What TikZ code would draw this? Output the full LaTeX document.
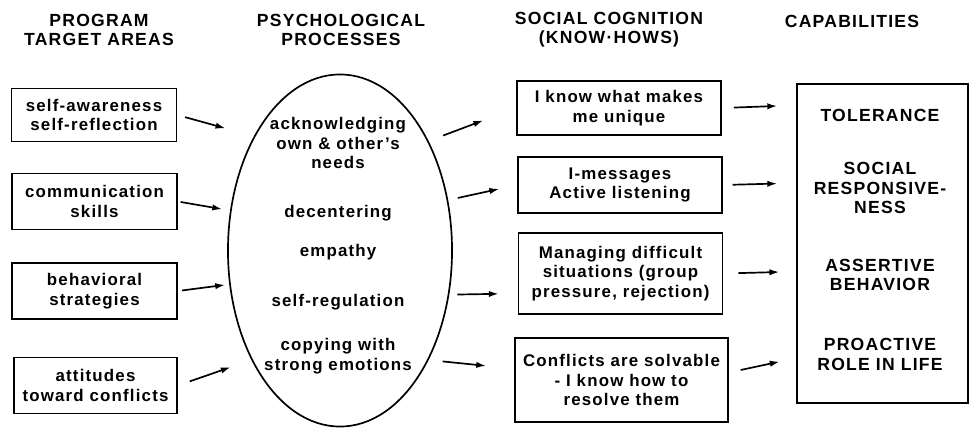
\documentclass[tikz,border=0pt]{standalone}
\usepackage{fontspec}
\setmainfont{Liberation Sans}[LetterSpace=7]
\usetikzlibrary{shapes.geometric,arrows.meta,positioning}

\begin{document}
\begin{tikzpicture}[x=0.025cm, y=-0.025cm,
    font=\fontsize{12}{13.9}\selectfont\bfseries,
    box/.style={rectangle, draw, line width=1.2pt, align=center, inner sep=0pt},
    target/.style={box, minimum width=4.125cm, minimum height=1.4cm},
    know/.style={box, minimum width=5.1cm},
    ptext/.style={align=center, inner sep=0pt},
    head/.style={align=center, font=\fontsize{12.5}{13.6}\selectfont\bfseries},
    arr/.style={-{Latex[length=7pt,width=4.5pt]}, line width=1.2pt}]

    \useasboundingbox (0,0) rectangle (970,428);

    % column headings
    \node[head] (h1) at (99,30) {PROGRAM\\TARGET AREAS};
    \node[head] (h2) at (341,30) {PSYCHOLOGICAL\\PROCESSES};
    \node[head] (h3) at (609,30) {SOCIAL COGNITION\\(KNOW·HOWS)};
    \node[head] (h4) at (852,21) {CAPABILITIES};

    % target areas
    \node[target, minimum height=1.33cm] (t1) at (94,115) {self-awareness\\self-reflection};
    \node[target] (t2) at (94.5,201.5) {communication\\skills};
    \node[target] (t3) at (94.5,291) {behavioral\\strategies};
    \node[target, minimum width=4.075cm] (t4) at (95.5,385.5) {attitudes\\toward conflicts};

    % psychological processes
    \node[ellipse, draw, line width=1.2pt, minimum width=5.6cm, minimum height=8.8cm, inner sep=0pt] (proc) at (340,250.5) {};
    \node[ptext] (p1) at (338,143) {acknowledging\\own \& other's\\needs};
    \node[ptext] (p2) at (338,213) {decentering};
    \node[ptext] (p3) at (338,252) {empathy};
    \node[ptext] (p4) at (338,302) {self-regulation};
    \node[ptext] (p5) at (338,356) {copying with\\strong emotions};

    % know-hows
    \node[know, minimum height=1.35cm] (m1) at (619,108) {I know what makes\\me unique};
    \node[know, minimum height=1.4cm] (m2) at (620,185) {I-messages\\Active listening};
    \node[know, minimum height=2.03cm] (m3) at (620.5,273.5) {Managing difficult\\situations (group\\pressure, rejection)};
    \node[know, minimum width=5.33cm, minimum height=2.1cm] (m4) at (621.5,380) {Conflicts are solvable\\- I know how to\\resolve them};

    % capabilities
    \node[box, minimum width=4.275cm, minimum height=7.975cm] (cap) at (882.5,243.5) {};
    \node[head] (c1) at (880,115) {TOLERANCE};
    \node[head] (c2) at (880,188) {SOCIAL\\RESPONSIVE-\\NESS};
    \node[head] (c3) at (880,275) {ASSERTIVE\\BEHAVIOR};
    \node[head] (c4) at (880,354.5) {PROACTIVE\\ROLE IN LIFE};

    % arrows
    \draw[arr, shorten <=5.7pt, shorten >=21pt] (t1.east) -- (proc.127.8);
    \draw[arr, shorten <=2pt, shorten >=5.7pt] (t2.east) -- (proc.160);
    \draw[arr, shorten <=3pt, shorten >=3pt] (t3.east) -- (proc.197.6);
    \draw[arr, shorten <=9pt, shorten >=15.6pt] (t4.east) -- (proc.231);

    \draw[arr, shorten <=11pt, shorten >=25pt] (proc.51.4) -- (m1.west);
    \draw[arr, shorten <=7pt, shorten >=13pt] (proc.25.5) -- (m2.west);
    \draw[arr, shorten <=5.7pt, shorten >=13.5pt] (proc.338.5) -- (m3.191);
    \draw[arr, shorten <=10pt, shorten >=20pt] (proc.309) -- (m4.174);

    \draw[arr, shorten <=8.5pt, shorten >=13.5pt] (m1.east) -- (cap.122.6);
    \draw[arr, shorten <=7pt, shorten >=13.5pt] (m2.east) -- (cap.145.2);
    \draw[arr, shorten <=10.7pt, shorten >=12pt] (m3.east) -- (cap.198.4);
    \draw[arr, shorten <=8.5pt, shorten >=12pt] (m4.4.8) -- (cap.233.7);
\end{tikzpicture}
\end{document}
